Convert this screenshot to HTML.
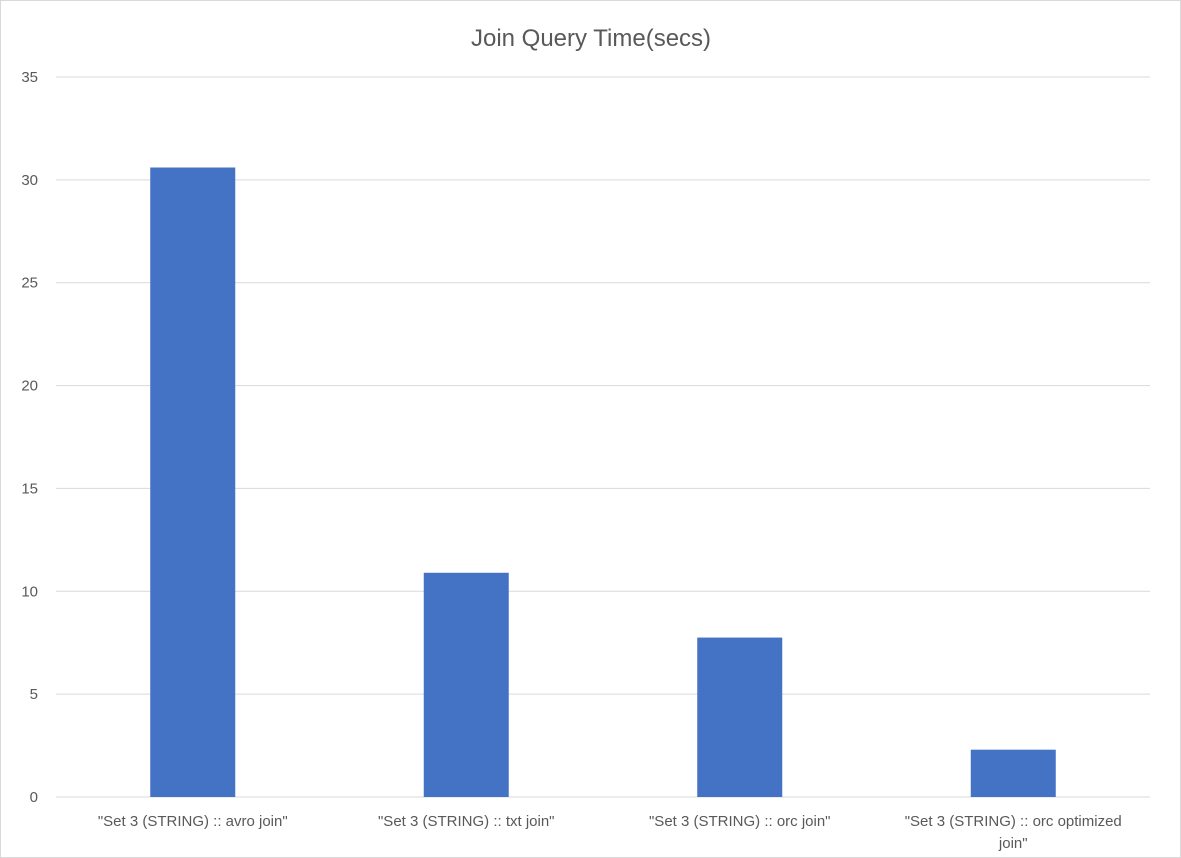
<!DOCTYPE html>
<html><head><meta charset="utf-8"><style>
body{margin:0;background:#fff;}
svg{display:block;font-family:"Liberation Sans",Calibri,sans-serif;}
</style></head><body>
<svg id="chart" width="1181" height="858" xmlns="http://www.w3.org/2000/svg">
<rect x="0.5" y="0.5" width="1180" height="857" fill="#fff" stroke="#d9d9d9"/>
<text x="591" y="46" text-anchor="middle" font-size="24" fill="#595959">Join Query Time(secs)</text>
<g id="grid"></g><g id="bars"></g><g id="xlabels"></g><g id="ylabels"></g>
</svg>
<script>
const categories = [["\"Set 3 (STRING) :: avro join\""],["\"Set 3 (STRING) :: txt join\""],["\"Set 3 (STRING) :: orc join\""],["\"Set 3 (STRING) :: orc optimized","join\""]];
const values = [30.6, 10.9, 7.75, 2.3];
const yTicks = [0,5,10,15,20,25,30,35];
{
const NS="http://www.w3.org/2000/svg";
const plotLeft=56,plotRight=1150,plotTop=77,plotBottom=797,yMax=35;
const y=v=>plotBottom-(v/yMax)*(plotBottom-plotTop);
const bandW=(plotRight-plotLeft)/categories.length;
const x=i=>plotLeft+bandW*(i+0.5);
function mk(t,a,p){const e=document.createElementNS(NS,t);for(const k in a)e.setAttribute(k,a[k]);p.appendChild(e);return e;}
const grid=document.getElementById('grid'),bars=document.getElementById('bars'),xl=document.getElementById('xlabels'),yl=document.getElementById('ylabels');
yTicks.forEach(t=>{
 const l=mk('line',{x1:plotLeft,x2:plotRight,y1:y(t),y2:y(t),stroke:'#d9d9d9','stroke-width':1},grid);
 
 
 const tx=mk('text',{x:38,y:y(t)+5,'text-anchor':'end','font-size':15,fill:'#595959'},yl);
 tx.textContent=t;
 
 
});
values.forEach((v,i)=>{
 const r=mk('rect',{x:x(i)-42.5,y:y(v),width:85,height:y(0)-y(v),fill:'#4472c4'},bars);
 
 
 categories[i].forEach((line,j)=>{
  const tx=mk('text',{x:x(i),y:826+j*22,'text-anchor':'middle','font-size':15,fill:'#595959'},xl);
  tx.textContent=line;
  
  
 });
});
}
</script>
</body></html>
